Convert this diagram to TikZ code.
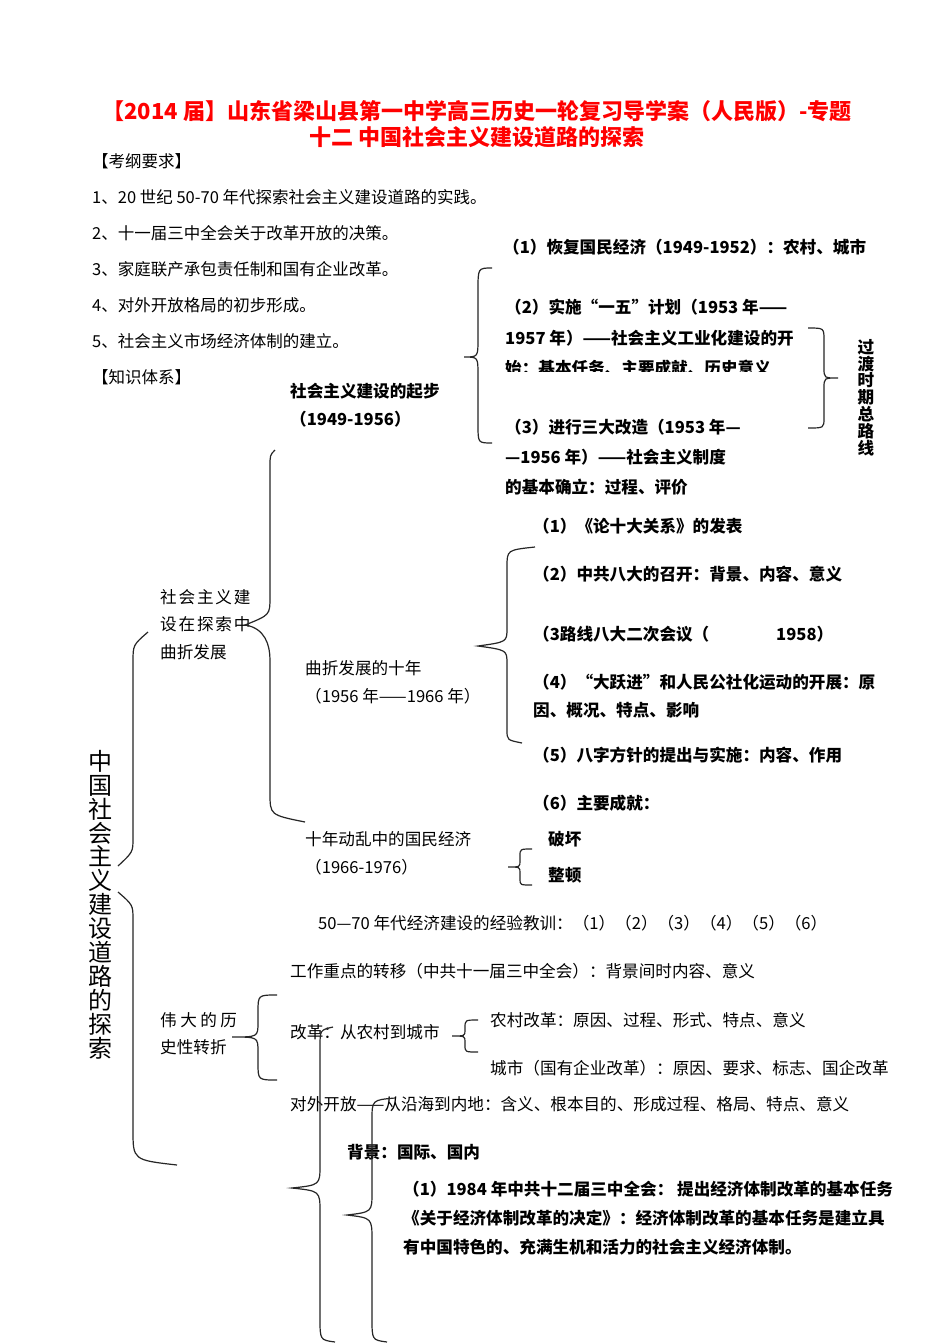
\documentclass[tikz,border=0pt]{standalone}
\usepackage{fontspec}
\setmainfont{Noto Sans CJK SC}
\newfontfamily\songti{Noto Sans CJK SC}
\usetikzlibrary{positioning}

\begin{document}
\begin{tikzpicture}[
    x=1pt, y=-1pt,
    headline/.style={
        font=\bfseries\fontsize{22}{26}\selectfont, text=red,
        align=center, inner sep=0pt
    },
    outline/.style={
        font=\songti\fontsize{16.5}{20}\selectfont, anchor=west, inner sep=0pt
    },
    topic/.style={
        font=\fontsize{16.6}{#1}\selectfont, anchor=north west,
        align=left, inner sep=0pt
    },
    topic/.default=20,
    point/.style={
        font=\bfseries\fontsize{16.6}{#1}\selectfont, anchor=north west,
        align=left, inner sep=0pt
    },
    point/.default=20,
    brace/.style={draw=black!85, line width=1.2pt}
]
\fill[white] (0,0) rectangle (950,1344);
\useasboundingbox (0,0) rectangle (950,1344);

% Title
\node[headline, anchor=north] (title) at (477,100)
    {【2014 届】山东省梁山县第一中学高三历史一轮复习导学案（人民版）-专题\\十二 中国社会主义建设道路的探索};

% Exam requirements list
\node[outline] (kgyq) at (92,161) {【考纲要求】};
\node[outline, below=36pt of kgyq.west, anchor=west] (req1) {1、20 世纪 50-70 年代探索社会主义建设道路的实践。};
\node[outline, below=36pt of req1.west, anchor=west] (req2) {2、十一届三中全会关于改革开放的决策。};
\node[outline, below=36pt of req2.west, anchor=west] (req3) {3、家庭联产承包责任制和国有企业改革。};
\node[outline, below=36pt of req3.west, anchor=west] (req4) {4、对外开放格局的初步形成。};
\node[outline, below=36pt of req4.west, anchor=west] (req5) {5、社会主义市场经济体制的建立。};
\node[outline, below=36pt of req5.west, anchor=west] (zstx) {【知识体系】};

% First stage 1949-1956
\node[point=28] (qibu) at (290,383) {社会主义建设的起步\\（1949-1956）};
\node[point] (huifu) at (503,239) {（1）恢复国民经济（1949-1952）：农村、城市};
\begin{scope}
    \clip (490,290) rectangle (810,371);
    \node[point=30.5] (yiwu) at (505,299)
        {（2）实施“一五”计划（1953 年——\\1957 年）——社会主义工业化建设的开\\始：基本任务、主要成就、历史意义};
\end{scope}
\node[point=30] (sanda) at (505,419)
    {（3）进行三大改造（1953 年—\\—1956 年）——社会主义制度\\的基本确立：过程、评价};
\node[point=16.8, anchor=north, align=center] (zongluxian) at (866,339)
    {过\\渡\\时\\期\\总\\路\\线};

% Exploration with twists and turns
\node[topic=27.5] (tansuo) at (160,589)
    {{\addfontfeature{LetterSpace=11}社会主义建}\\{\addfontfeature{LetterSpace=11}设在探索中}\\曲折发展};
\node[topic=28] (shinian) at (305,660) {曲折发展的十年\\（1956 年——1966 年）};
\node[point] (lunshi)   at (533,518) {（1）《论十大关系》的发表};
\node[point] (bada)     at (533,566) {（2）中共八大的召开：背景、内容、意义};
\node[point] (erci)     at (533,626) {（3路线八大二次会议（};
\node[point] (erciyear) at (776,626) {1958）};
\node[point=28] (dayuejin) at (533,674) {（4）“大跃进”和人民公社化运动的开展：原\\因、概况、特点、影响};
\node[point] (bazi)     at (533,747) {（5）八字方针的提出与实施：内容、作用};
\node[point] (chengjiu) at (533,795) {（6）主要成就：};

\node[topic=28] (dongluan) at (305,831) {十年动乱中的国民经济\\（1966-1976）};
\node[point] (pohuai)   at (548,831) {破坏};
\node[point] (zhengdun) at (548,867) {整顿};
\node[topic] (jiaoxun)  at (318,915) {50—70 年代经济建设的经验教训：（1）（2）（3）（4）（5）（6）};

% Great historic turn
\node[topic] (zhuanyi) at (290,963) {工作重点的转移（中共十一届三中全会）：背景间时内容、意义};
\node[topic=27] (weida) at (160,1012) {{\addfontfeature{LetterSpace=21}伟大的历}\\史性转折};
\node[topic] (gaige)    at (290,1024) {改革：从农村到城市};
\node[topic] (nongcun)  at (490,1012) {农村改革：原因、过程、形式、特点、意义};
\node[topic] (chengshi) at (490,1060) {城市（国有企业改革）：原因、要求、标志、国企改革};
\node[topic] (kaifang)  at (290,1096) {对外开放——从沿海到内地：含义、根本目的、形成过程、格局、特点、意义};
\node[point] (beijing)  at (347,1144) {背景：国际、国内};
\node[point=29] (jueding) at (403,1181)
    {（1）1984 年中共十二届三中全会： 提出经济体制改革的基本任务\\《关于经济体制改革的决定》：经济体制改革的基本任务是建立具\\有中国特色的、充满生机和活力的社会主义经济体制。};

% Vertical main topic
\node[font=\fontsize{24}{23.9}\selectfont, align=center, anchor=north, inner sep=0pt] (zhuti) at (100,750)
    {中\\国\\社\\会\\主\\义\\建\\设\\道\\路\\的\\探\\索};

% Braces
\draw[brace] (492,268) .. controls (478,268) .. (478,290) -- (478,339) .. controls (478,357) .. (464,357)
    .. controls (478,357) .. (478,375) -- (478,425) .. controls (478,443) .. (492,443);
\draw[brace] (808,328) .. controls (824,328) .. (824,340) -- (824,368) .. controls (824,378) .. (838,378)
    .. controls (824,378) .. (824,388) -- (824,418) .. controls (824,428) .. (808,428);
\draw[brace] (275,450) .. controls (270,455) .. (270,467) -- (270,597) .. controls (270,615) .. (245,625)
    .. controls (265,628) and (270,645) .. (270,660) -- (270,793) .. controls (270,815) .. (305,822);
\draw[brace] (535,547) .. controls (507,550) .. (507,567) -- (507,628) .. controls (507,642) .. (478,646)
    .. controls (507,650) .. (507,664) -- (507,730) .. controls (507,740) .. (522,743);
\draw[brace] (532,849) .. controls (520,849) .. (520,856) -- (520,861) .. controls (520,867) .. (508,867)
    .. controls (520,867) .. (520,873) -- (520,879) .. controls (520,885) .. (532,885);
\draw[brace] (148,632) .. controls (133,645) .. (133,662) -- (133,838) .. controls (133,852) .. (118,866)
    (118,892) .. controls (133,905) .. (133,920) -- (133,1130) .. controls (133,1160) .. (177,1165);
\draw[brace] (277,995) .. controls (258,995) .. (258,1012) -- (258,1022) .. controls (258,1037) .. (232,1037)
    .. controls (258,1037) .. (258,1052) -- (258,1063) .. controls (258,1080) .. (277,1080);
\draw[brace] (478,1020) .. controls (465,1020) .. (465,1028) -- (465,1030) .. controls (465,1036) .. (452,1036)
    .. controls (465,1036) .. (465,1042) -- (465,1045) .. controls (465,1052) .. (478,1052);
\draw[brace] (333,1027) .. controls (320,1030) .. (320,1047) -- (320,1165) .. controls (320,1185) .. (292,1188)
    .. controls (320,1191) .. (320,1212) -- (320,1318) .. controls (320,1340) .. (335,1342);
\draw[brace] (395,1098) .. controls (372,1100) .. (372,1120) -- (372,1192) .. controls (372,1212) .. (347,1215)
    .. controls (372,1218) .. (372,1240) -- (372,1318) .. controls (372,1340) .. (387,1342);

\end{tikzpicture}
\end{document}
